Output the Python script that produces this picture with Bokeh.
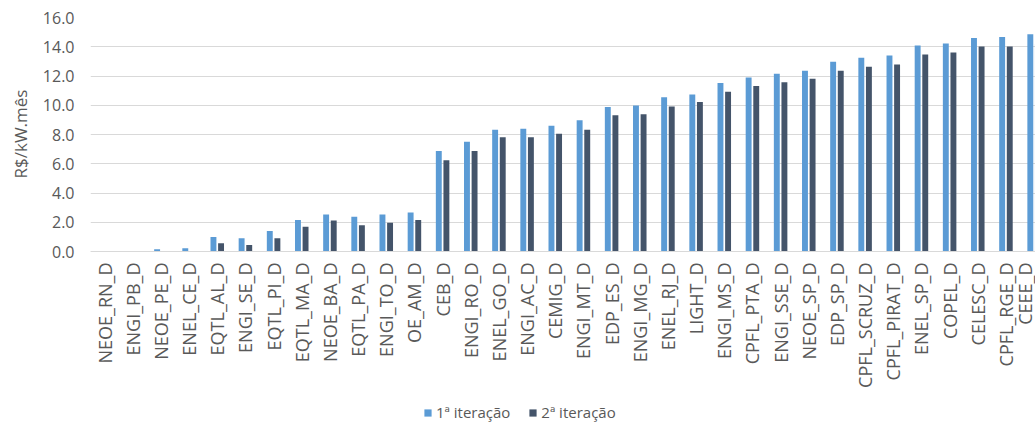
import math
import numpy as np
from bokeh.plotting import figure
from bokeh.models import (Range1d, FixedTicker, ColumnDataSource, Legend, LegendItem,
                          NumeralTickFormatter, Title)
from bokeh.embed import file_html
from bokeh.resources import INLINE

categories = ["NEOE_RN_D", "ENGI_PB_D", "NEOE_PE_D", "ENEL_CE_D", "EQTL_AL_D", "ENGI_SE_D",
              "EQTL_PI_D", "EQTL_MA_D", "NEOE_BA_D", "EQTL_PA_D", "ENGI_TO_D", "OE_AM_D",
              "CEB_D", "ENGI_RO_D", "ENEL_GO_D", "ENGI_AC_D", "CEMIG_D", "ENGI_MT_D",
              "EDP_ES_D", "ENGI_MG_D", "ENEL_RJ_D", "LIGHT_D", "ENGI_MS_D", "CPFL_PTA_D",
              "ENGI_SSE_D", "NEOE_SP_D", "EDP_SP_D", "CPFL_SCRUZ_D", "CPFL_PIRAT_D",
              "ENEL_SP_D", "COPEL_D", "CELESC_D", "CPFL_RGE_D", "CEEE_D"]
iter1 = [0.0, 0.0, 0.16, 0.23, 1.0, 0.91, 1.41, 2.16, 2.53, 2.37, 2.53, 2.66,
         6.87, 7.51, 8.33, 8.40, 8.60, 8.97, 9.88, 9.99, 10.54, 10.74, 11.52, 11.90,
         12.15, 12.36, 12.97, 13.24, 13.40, 14.09, 14.22, 14.59, 14.66, 14.86]
iter2 = [0.0, 0.0, 0.0, 0.0, 0.57, 0.44, 0.91, 1.69, 2.12, 1.80, 1.96, 2.16,
         6.24, 6.87, 7.81, 7.81, 8.06, 8.33, 9.31, 9.38, 9.92, 10.22, 10.92, 11.31,
         11.58, 11.81, 12.36, 12.63, 12.79, 13.47, 13.61, 14.02, 14.02, 14.22]
series_names = ["1ª iteração", "2ª iteração"]
y_ticks = [0, 2, 4, 6, 8, 10, 12, 14, 16]
y_title = "R$/kW.mês"

FONT = "Open Sans"
TXT = "#595959"
GRID = "#D9D9D9"
C1 = "#5B9BD5"
C2 = "#44546A"

pos = np.arange(len(categories)) + 0.5
src = ColumnDataSource(dict(x1=pos - 0.135, x2=pos + 0.135, a=iter1, b=iter2))

# frame reaches down to the window bottom so the legend under the labels stays visible
p = figure(frame_width=947, frame_height=406, output_backend="svg", toolbar_location=None,
           x_range=Range1d(0, 33.62), y_range=Range1d(-11.76, 16),
           min_border_left=88, min_border_right=0, min_border_top=17, min_border_bottom=0)
p.outline_line_color = None
p.background_fill_color = "white"
p.border_fill_color = "white"

r1 = p.vbar(x="x1", top="a", bottom=0, width=0.21, source=src, fill_color=C1, line_color=None)
r2 = p.vbar(x="x2", top="b", bottom=0, width=0.21, source=src, fill_color=C2, line_color=None)

p.xgrid.grid_line_color = None
p.ygrid.grid_line_color = GRID
p.ygrid.grid_line_width = 1

ya = p.yaxis[0]
ya.ticker = FixedTicker(ticks=y_ticks)
ya.formatter = NumeralTickFormatter(format="0.0")
ya.axis_line_color = None
ya.major_tick_line_color = None
ya.minor_tick_line_color = None
ya.major_tick_out = 0
ya.major_tick_in = 0
ya.major_label_standoff = 16
ya.major_label_text_font = FONT
ya.major_label_text_font_size = "16px"
ya.major_label_text_color = TXT

p.add_layout(Title(text=y_title, align="left", offset=245, vertical_align="middle",
                   standoff=14, text_font=FONT, text_font_size="17px",
                   text_font_style="normal", text_color=TXT), "left")

xa = p.xaxis[0]
xa.fixed_location = 0
xa.ticker = FixedTicker(ticks=list(pos))
xa.major_label_overrides = {float(v): c for v, c in zip(pos, categories)}
xa.major_label_orientation = math.pi / 2
xa.axis_line_color = GRID
xa.major_tick_line_color = None
xa.minor_tick_line_color = None
xa.major_tick_out = 0
xa.major_tick_in = 0
xa.major_label_standoff = 11
xa.major_label_text_font = FONT
xa.major_label_text_font_size = "18px"
xa.major_label_text_color = TXT

legend = Legend(items=[LegendItem(label=series_names[0], renderers=[r1]),
                       LegendItem(label=series_names[1], renderers=[r2])],
                orientation="horizontal", location=(333, 1),
                label_text_font=FONT, label_text_font_size="15px", label_text_color=TXT,
                glyph_width=9, glyph_height=9, label_standoff=4, spacing=18,
                border_line_color=None, background_fill_alpha=0, margin=0, padding=0)
p.add_layout(legend, "center")

open("out.html", "w").write(file_html(p, INLINE))
